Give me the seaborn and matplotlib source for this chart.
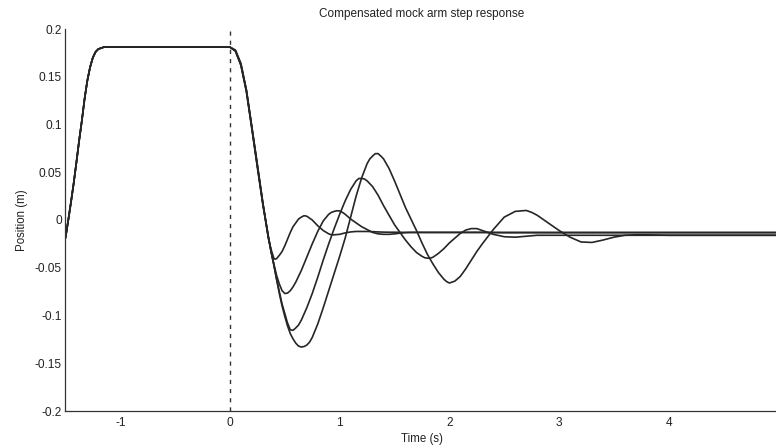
import matplotlib
matplotlib.use("Agg")
import matplotlib.pyplot as plt
import seaborn as sns
import pandas as pd

# ---- data ----
t_pre = [-1.5, -1.49, -1.475, -1.45, -1.425, -1.40, -1.375, -1.35, -1.325,
         -1.30, -1.275, -1.25, -1.225, -1.20, -1.15, -1.0, -0.5]
y_pre = [-0.019, -0.012, -0.001, 0.018, 0.038, 0.060, 0.083, 0.104, 0.127,
         0.146, 0.160, 0.170, 0.176, 0.179, 0.181, 0.181, 0.181]

t_post = [0.00, 0.05, 0.10, 0.15, 0.20, 0.25, 0.30, 0.35, 0.40, 0.45,
          0.50, 0.55, 0.60, 0.65, 0.70, 0.75, 0.80, 0.85, 0.90, 0.95,
          1.00, 1.05, 1.10, 1.15, 1.20, 1.25, 1.30, 1.35, 1.40, 1.45,
          1.50, 1.55, 1.60, 1.65, 1.70, 1.75, 1.80, 1.85, 1.90, 1.95,
          2.00, 2.1, 2.2, 2.3, 2.4, 2.5, 2.6, 2.7, 2.8, 2.9,
          3.0, 3.1, 3.2, 3.3, 3.4, 3.5, 3.6, 3.7, 3.8, 4.0,
          4.5, 5.0]

resp_a = [0.181, 0.178, 0.164, 0.136, 0.097, 0.057, 0.017, -0.019, -0.040, -0.037,
          -0.027, -0.013, -0.003, 0.003, 0.004, 0.000, -0.006, -0.011, -0.0145, -0.0155,
          -0.015, -0.0135, -0.0125, -0.012, -0.012, -0.012, -0.0122, -0.0125, -0.0127, -0.0128,
          -0.0128, -0.0129, -0.013, -0.013, -0.013, -0.013, -0.013, -0.013, -0.013, -0.013,
          -0.013, -0.013, -0.013, -0.013, -0.0132, -0.0133, -0.0133, -0.0133, -0.0133, -0.0133,
          -0.0133, -0.0133, -0.0133, -0.0133, -0.0133, -0.0133, -0.0133, -0.0133, -0.0133, -0.0133,
          -0.0133, -0.0133]
resp_b = [0.181, 0.177, 0.163, 0.136, 0.097, 0.058, 0.018, -0.018, -0.046, -0.067,
          -0.077, -0.074, -0.065, -0.053, -0.039, -0.025, -0.012, -0.001, 0.006, 0.009,
          0.0095, 0.006, 0.001, -0.003, -0.007, -0.010, -0.013, -0.0145, -0.015, -0.015,
          -0.0145, -0.0138, -0.0132, -0.013, -0.013, -0.013, -0.013, -0.013, -0.013, -0.013,
          -0.013, -0.013, -0.013, -0.013, -0.013, -0.013, -0.013, -0.013, -0.013, -0.013,
          -0.013, -0.013, -0.013, -0.013, -0.013, -0.013, -0.013, -0.013, -0.013, -0.013,
          -0.013, -0.013]
resp_c = [0.181, 0.177, 0.162, 0.135, 0.096, 0.056, 0.017, -0.018, -0.047, -0.075,
          -0.098, -0.115, -0.113, -0.105, -0.092, -0.077, -0.060, -0.042, -0.025, -0.009,
          0.006, 0.020, 0.032, 0.041, 0.0435, 0.041, 0.035, 0.026, 0.015, 0.005,
          -0.005, -0.013, -0.021, -0.028, -0.034, -0.038, -0.040, -0.039, -0.035, -0.030,
          -0.024, -0.014, -0.009, -0.011, -0.015, -0.0175, -0.018, -0.017, -0.016, -0.016,
          -0.016, -0.016, -0.016, -0.016, -0.016, -0.016, -0.016, -0.016, -0.016, -0.016,
          -0.016, -0.016]
resp_d = [0.181, 0.177, 0.162, 0.134, 0.095, 0.055, 0.016, -0.017, -0.047, -0.077,
          -0.101, -0.119, -0.129, -0.133, -0.131, -0.123, -0.109, -0.092, -0.074, -0.056,
          -0.038, -0.019, 0.003, 0.025, 0.044, 0.059, 0.067, 0.0695, 0.064, 0.054,
          0.041, 0.027, 0.013, 0.001, -0.011, -0.024, -0.036, -0.046, -0.055, -0.062,
          -0.066, -0.059, -0.042, -0.025, -0.010, 0.003, 0.009, 0.010, 0.005, -0.003,
          -0.011, -0.018, -0.023, -0.0235, -0.021, -0.018, -0.016, -0.0155, -0.0155, -0.016,
          -0.016, -0.016]

# extra readings near the turning points of each run
t_extra_a = [0.375, 0.41, 0.425, 0.475, 0.525, 0.575, 0.625, 0.675, 0.725, 0.925]
y_extra_a = [-0.031, -0.041, -0.0405, -0.033, -0.020, -0.007, 0.001, 0.0045, 0.002, -0.0155]
t_extra_b = [0.375, 0.425, 0.475, 0.525, 0.575, 0.925, 0.975, 1.025]
y_extra_b = [-0.033, -0.058, -0.074, -0.0765, -0.070, 0.008, 0.0097, 0.008]
t_extra_c = [0.375, 0.425, 0.475, 0.525, 0.575, 0.625, 1.175, 1.225, 1.775, 1.825, 2.15, 2.25]
y_extra_c = [-0.033, -0.062, -0.088, -0.108, -0.1155, -0.110, 0.0435, 0.043, -0.0395, -0.040,
             -0.0105, -0.009]
t_extra_d = [0.375, 0.425, 0.475, 0.525, 0.575, 0.625, 0.675, 0.725, 1.275, 1.325, 1.375,
             1.975, 2.05, 2.15, 2.25, 2.65, 2.75]
y_extra_d = [-0.033, -0.062, -0.090, -0.111, -0.1245, -0.132, -0.1325, -0.128, 0.064, 0.0695,
             0.067, -0.0645, -0.064, -0.051, -0.033, 0.0095, 0.008]

x_ticks = [-1, 0, 1, 2, 3, 4]
y_ticks = [0.2, 0.15, 0.1, 0.05, 0, -0.05, -0.1, -0.15, -0.2]
y_ticklabels = ["0.2", "0.15", "0.1", "0.05", "0", "-0.05", "-0.1", "-0.15", "-0.2"]

# ---- build long table ----
runs = [("a", resp_a, t_extra_a, y_extra_a),
        ("b", resp_b, t_extra_b, y_extra_b),
        ("c", resp_c, t_extra_c, y_extra_c),
        ("d", resp_d, t_extra_d, y_extra_d)]
frames = []
for name, post, tx, yx in runs:
    frames.append(pd.DataFrame({"time": t_pre + t_post + tx,
                                "position": y_pre + post + yx,
                                "run": name}))
df = pd.concat(frames, ignore_index=True)
df = df.drop_duplicates(subset=["run", "time"]).sort_values(["run", "time"])

sns.set_style("white")
plt.rcParams["font.family"] = ["Liberation Sans", "DejaVu Sans"]
plt.rcParams["axes.unicode_minus"] = False

fig = plt.figure(figsize=(7.76, 4.46), dpi=100)
ax = fig.add_axes([65.4 / 776, 1 - 411 / 446, (778.5 - 65.4) / 776, 382 / 446])

line_col = "#262626"
sns.lineplot(data=df, x="time", y="position", units="run", estimator=None,
             sort=True, color=line_col, linewidth=1.2, ax=ax)

ax.axvline(0, color="#333333", linewidth=1.0, linestyle=(0, (3.0, 3.6)), zorder=1)

ax.set_xlim(-1.5, 5)
ax.set_ylim(-0.2, 0.2)
ax.set_xticks(x_ticks)
ax.set_xticklabels([str(v) for v in x_ticks])
ax.set_yticks(y_ticks)
ax.set_yticklabels(y_ticklabels)

for s in ["top", "right"]:
    ax.spines[s].set_visible(False)
for s in ["left", "bottom"]:
    ax.spines[s].set_color("#333333")
    ax.spines[s].set_linewidth(0.9)

ax.tick_params(direction="in", length=3.5, width=0.8, color="#333333",
               labelsize=8.6, labelcolor="#222222")
ax.tick_params(axis="y", pad=2.5)
ax.tick_params(axis="x", pad=4)

ax.set_xlabel("Time (s)", fontsize=8.3, color="#222222", labelpad=3)
ax.set_ylabel("Position (m)", fontsize=8.3, color="#222222", labelpad=5)
ax.set_title("Compensated mock arm step response", fontsize=8.5,
             color="#222222", pad=9)

fig.savefig("out.png", dpi=100)
